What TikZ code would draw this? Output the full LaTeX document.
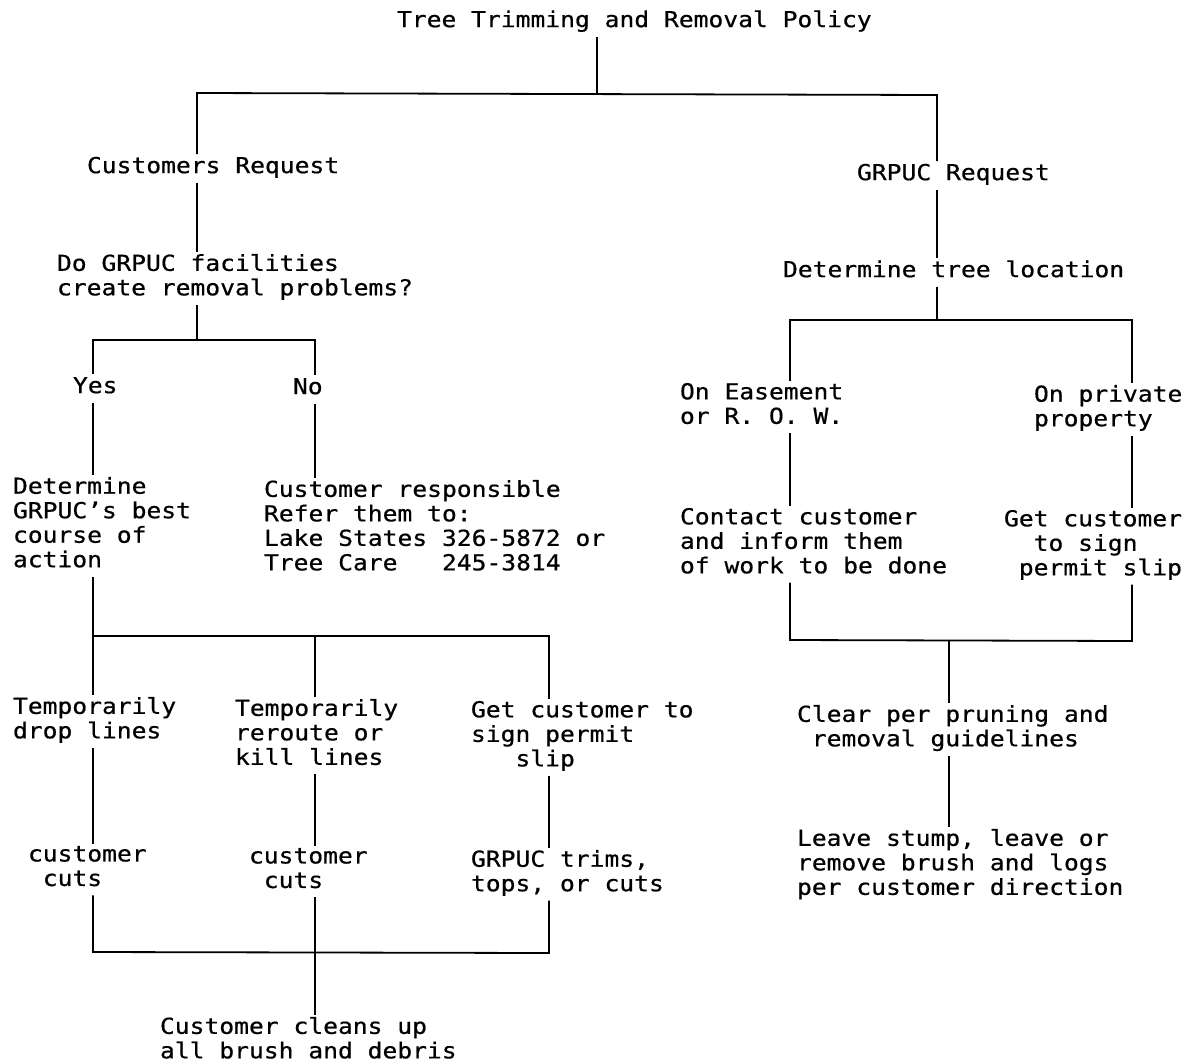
\documentclass[tikz,border=0pt]{standalone}
\usepackage{fontspec}
\setmonofont[FakeStretch=1.12,FakeBold=0.6]{DejaVu Sans Mono}
\usepackage{tikz}

\begin{document}
\begin{tikzpicture}[x=1pt,y=-1pt,
  txt/.style={anchor=north west,inner sep=0pt,outer sep=2pt,align=left,
    font=\ttfamily\fontsize{22}{24.5}\selectfont,
    execute at begin node=\strut,execute at end node=\strut},
  wire/.style={line width=1.8pt}]
  \useasboundingbox (0,0) rectangle (1191,1063);
  % texts
  \node[txt] (title) at (395,8) {Tree Trimming and Removal Policy};
  \node[txt] (custreq) at (85,154) {Customers Request};
  \node[txt] (facil) at (55,252) {Do GRPUC facilities\\create removal problems?};
  \node[txt] (yes) at (71,374) {Yes};
  \node[txt] (no) at (291,375) {No};
  \node[txt] (detgr) at (11,475) {Determine\\GRPUC’s best\\course of\\action};
  \node[txt] (custresp) at (262,478) {Customer responsible\\Refer them to:\\Lake States 326-5872 or\\Tree Care~~~245-3814};
  \node[txt] (drop) at (11,695) {Temporarily\\drop lines};
  \node[txt] (reroute) at (233,697) {Temporarily\\reroute or\\kill lines};
  \node[txt] (getcust) at (469,699) {Get customer to\\sign permit\\~~~slip};
  \node[txt] (cuts1) at (26,844) {customer\\~cuts};
  \node[txt] (cuts2) at (247,846) {customer\\~cuts};
  \node[txt] (trims) at (469,848) {GRPUC trims,\\tops, or cuts};
  \node[txt] (cleans) at (158,1015) {Customer cleans up\\all brush and debris};
  \node[txt] (grreq) at (855,161) {GRPUC Request};
  \node[txt] (loc) at (781,258) {Determine tree location};
  \node[txt] (ease) at (678,381) {On Easement\\or R. O. W.};
  \node[txt] (priv) at (1032,383) {On private\\property};
  \node[txt] (contact) at (678,506) {Contact customer\\and inform them\\of work to be done};
  \node[txt] (sign) at (1002,508) {Get customer\\~~to sign\\~permit slip};
  \node[txt] (clear) at (795,703) {Clear per pruning and\\~removal guidelines};
  \node[txt] (leave) at (795,827) {Leave stump, leave or\\remove brush and logs\\per customer direction};
  % junctions
  \coordinate (jtop) at (597,94);
  \coordinate (jl) at (197,93);
  \coordinate (jr) at (937,95);
  \coordinate (jq) at (197,340);
  \coordinate (jyes) at (93,340);
  \coordinate (jno) at (315,340);
  \coordinate (ja) at (93,636);
  \coordinate (jb) at (315,636);
  \coordinate (jc) at (549,636);
  \coordinate (ka) at (93,952);
  \coordinate (kb) at (315,952);
  \coordinate (kc) at (549,953);
  \coordinate (jloc) at (937,320);
  \coordinate (je) at (790,320);
  \coordinate (jp) at (1132,320);
  \coordinate (ke) at (790,640);
  \coordinate (kp) at (1132,641);
  \coordinate (kcl) at (949,640);
  % left branch
  \draw[wire] (title.south -| jtop) -- (jtop);
  \draw[wire] (custreq.north -| jl) -- (jl) -- (jr) -- (grreq.north -| jr);
  \draw[wire] (custreq.south -| jl) -- (facil.north -| jl);
  \draw[wire] (facil.south -| jq) -- (jq);
  \draw[wire] (yes.north -| jyes) -- (jyes) -- (jno) -- (no.north -| jno);
  \draw[wire] (yes.south -| jyes) -- (detgr.north -| jyes);
  \draw[wire] (no.south -| jno) -- (custresp.north -| jno);
  \draw[wire] (detgr.south -| ja) -- (drop.north -| ja);
  \draw[wire] (ja) -- (jc) -- (getcust.north -| jc);
  \draw[wire] (jb) -- (reroute.north -| jb);
  \draw[wire] (drop.south -| ja) -- (cuts1.north -| ja);
  \draw[wire] (reroute.south -| jb) -- (cuts2.north -| jb);
  \draw[wire] (getcust.south -| jc) -- (trims.north -| jc);
  \draw[wire] (cuts1.south -| ka) -- (ka) -- (kc) -- (trims.south -| kc);
  \draw[wire] (cuts2.south -| kb) -- (cleans.north -| kb);
  % right branch
  \draw[wire] (grreq.south -| jr) -- (loc.north -| jr);
  \draw[wire] (loc.south -| jloc) -- (jloc);
  \draw[wire] (ease.north -| je) -- (je) -- (jp) -- (priv.north -| jp);
  \draw[wire] (ease.south -| je) -- (contact.north -| je);
  \draw[wire] (priv.south -| jp) -- (sign.north -| jp);
  \draw[wire] (contact.south -| ke) -- (ke) -- (kp) -- (sign.south -| kp);
  \draw[wire] (kcl) -- (clear.north -| kcl);
  \draw[wire] (clear.south -| kcl) -- (leave.north -| kcl);
\end{tikzpicture}
\end{document}
